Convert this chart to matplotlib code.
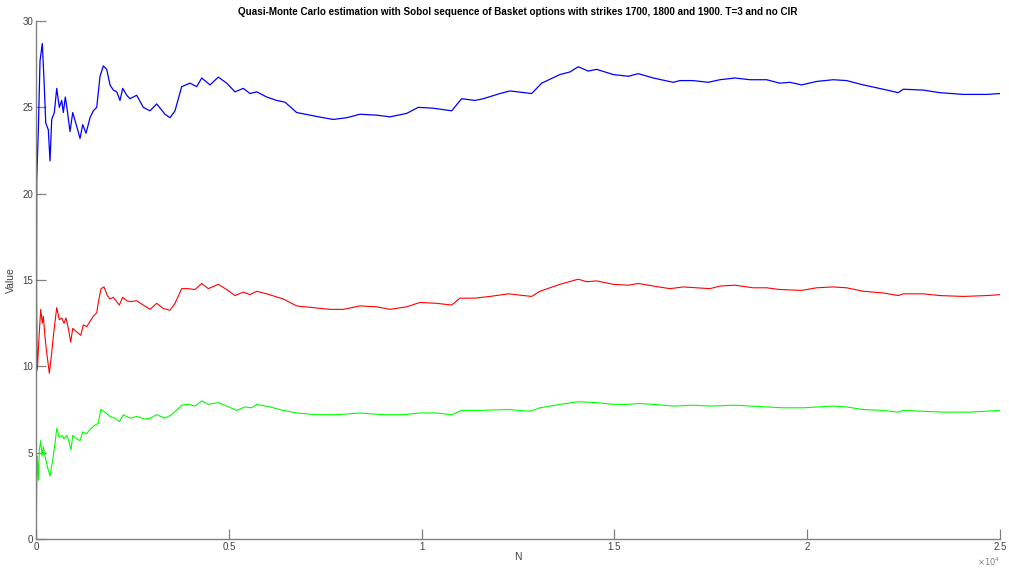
import matplotlib
matplotlib.use("Agg")
import matplotlib.pyplot as plt
from matplotlib.ticker import FuncFormatter

plt.rcParams['font.family'] = ['Liberation Sans', 'DejaVu Sans']

# strike 1700 (blue)
n_blue = [1, 18, 60, 104, 163, 207, 252, 319, 363, 407, 475, 537, 604, 666, 708, 760,
          812, 882, 952, 1055, 1141, 1211, 1297, 1400, 1486, 1574, 1660, 1745, 1833,
          1919, 2004, 2093, 2178, 2248, 2352, 2437, 2611, 2782, 2956, 3130, 3345, 3475,
          3604, 3778, 3993, 4167, 4297, 4512, 4727, 4945, 5160, 5375, 5549, 5723, 5982,
          6241, 6457, 6760, 7105, 7450, 7709, 8057, 8401, 8834, 9179, 9612, 9913, 10302,
          10779, 11038, 11383, 11599, 12032, 12291, 12854, 13113, 13587, 13847, 14062,
          14322, 14539, 14969, 15358, 15618, 16007, 16525, 16699, 17044, 17433, 17736,
          18125, 18514, 18947, 19292, 19551, 19855, 20244, 20674, 21022, 21452, 21971,
          22360, 22490, 23008, 23441, 24045, 24652, 25000]
v_blue = [0, 20.8, 23.7, 27.7, 28.7, 26.6, 24.1, 23.7, 21.9, 24.3, 24.7, 26.1, 25.0, 25.4,
          24.7, 25.6, 24.8, 23.6, 24.7, 23.9, 23.2, 24.0, 23.5, 24.4, 24.8, 25.0, 26.8,
          27.4, 27.2, 26.3, 26.0, 25.9, 25.4, 26.1, 25.7, 25.5, 25.7, 25.0, 24.8, 25.2,
          24.6, 24.4, 24.8, 26.2, 26.4, 26.2, 26.7, 26.3, 26.75, 26.4, 25.9, 26.1, 25.8,
          25.9, 25.6, 25.4, 25.3, 24.7, 24.55, 24.4, 24.3, 24.4, 24.6, 24.55, 24.45,
          24.65, 25.0, 24.95, 24.8, 25.5, 25.4, 25.5, 25.8, 25.95, 25.8, 26.4, 26.9,
          27.05, 27.35, 27.1, 27.2, 26.9, 26.8, 26.95, 26.7, 26.45, 26.55, 26.55, 26.45,
          26.6, 26.7, 26.6, 26.6, 26.4, 26.45, 26.3, 26.5, 26.6, 26.55, 26.3, 26.05,
          25.85, 26.05, 26.0, 25.85, 25.75, 25.75, 25.8]

# strike 1800 (red)
n_red = [1, 8, 34, 78, 122, 163, 189, 233, 277, 345, 407, 467, 537, 604, 666, 726, 778,
         838, 900, 952, 1055, 1159, 1227, 1315, 1400, 1486, 1574, 1615, 1685, 1763, 1849,
         1919, 2004, 2074, 2160, 2248, 2352, 2437, 2611, 2782, 2956, 3130, 3301, 3475,
         3604, 3778, 3949, 4123, 4297, 4468, 4727, 4945, 5160, 5375, 5549, 5723, 5982,
         6413, 6760, 7190, 7623, 7968, 8401, 8834, 9179, 9612, 9957, 10390, 10779, 10994,
         11383, 11772, 12247, 12854, 13069, 13587, 14062, 14280, 14539, 14969, 15358,
         15618, 16007, 16440, 16785, 17132, 17477, 17736, 18125, 18600, 18947, 19292,
         19855, 20244, 20674, 21022, 21452, 21971, 22360, 22490, 23008, 23441, 24045,
         24652, 25000]
v_red = [0, 14.5, 9.8, 11.7, 13.3, 12.5, 12.9, 11.7, 10.8, 9.6, 10.8, 12.1, 13.4, 12.7,
         12.8, 12.5, 12.8, 12.2, 11.4, 12.2, 12.0, 11.8, 12.4, 12.3, 12.6, 12.9, 13.1,
         13.7, 14.5, 14.6, 14.1, 13.9, 14.0, 13.8, 13.55, 14.0, 13.8, 13.75, 13.8, 13.55,
         13.3, 13.65, 13.35, 13.25, 13.65, 14.5, 14.5, 14.45, 14.8, 14.5, 14.75, 14.45,
         14.1, 14.3, 14.15, 14.35, 14.2, 13.9, 13.5, 13.4, 13.3, 13.3, 13.5, 13.45, 13.3,
         13.45, 13.7, 13.65, 13.55, 13.95, 13.95, 14.05, 14.2, 14.05, 14.35, 14.75, 15.05,
         14.9, 14.95, 14.75, 14.7, 14.8, 14.65, 14.5, 14.6, 14.55, 14.5, 14.65, 14.7,
         14.55, 14.55, 14.45, 14.4, 14.55, 14.6, 14.55, 14.35, 14.25, 14.1, 14.2, 14.2,
         14.1, 14.05, 14.1, 14.15]

# strike 1900 (green)
n_green = [1, 18, 34, 60, 86, 122, 156, 189, 233, 293, 363, 433, 493, 537, 604, 666, 726,
           796, 848, 908, 952, 1055, 1141, 1211, 1315, 1400, 1530, 1615, 1678, 1789, 1919,
           2048, 2160, 2264, 2437, 2611, 2826, 2956, 3130, 3345, 3519, 3778, 3949, 4123,
           4297, 4468, 4727, 4945, 5204, 5419, 5593, 5723, 6068, 6413, 6760, 7279, 7797,
           8401, 9005, 9524, 9957, 10390, 10779, 11038, 11513, 12247, 12809, 13069, 13587,
           14062, 14539, 14969, 15358, 15618, 16007, 16525, 17044, 17477, 18125, 18947,
           19378, 19896, 20674, 21022, 21452, 21971, 22360, 22490, 23008, 23527, 24219,
           25000]
v_green = [0, 2.8, 4.8, 3.4, 5.15, 5.7, 4.8, 5.35, 4.8, 4.2, 3.65, 4.6, 5.55, 6.4, 5.9,
           6.0, 5.8, 6.0, 5.7, 5.15, 6.0, 5.8, 5.7, 6.2, 6.1, 6.35, 6.6, 6.7, 7.5, 7.35,
           7.1, 7.0, 6.8, 7.2, 7.0, 7.1, 6.95, 7.0, 7.2, 7.0, 7.2, 7.75, 7.8, 7.7, 8.0,
           7.8, 7.9, 7.7, 7.45, 7.65, 7.6, 7.8, 7.65, 7.45, 7.3, 7.2, 7.2, 7.3, 7.2, 7.2,
           7.3, 7.3, 7.2, 7.45, 7.45, 7.5, 7.4, 7.6, 7.8, 7.95, 7.9, 7.8, 7.8, 7.85, 7.8,
           7.7, 7.75, 7.7, 7.75, 7.65, 7.6, 7.6, 7.7, 7.65, 7.5, 7.45, 7.35, 7.45, 7.4,
           7.35, 7.35, 7.45]

title = ('Quasi-Monte Carlo estimation with Sobol sequence of Basket options '
         'with strikes 1700, 1800 and 1900. T=3 and no CIR')
xticks = [0, 5000, 10000, 15000, 20000, 25000]
yticks = [0, 5, 10, 15, 20, 25, 30]

fig = plt.figure(figsize=(10.09, 5.68), dpi=100)
ax = fig.add_axes([0.0357, 0.051, 0.9554, 0.912])

ax.plot(n_blue, v_blue, color='#0000ff', lw=0.9)
ax.plot(n_red, v_red, color='#ff0000', lw=0.8)
ax.plot(n_green, v_green, color='#00ff00', lw=0.8)

ax.set_xlim(0, 25000)
ax.set_ylim(0, 30)
ax.set_xticks(xticks)
ax.set_yticks(yticks)
ax.xaxis.set_major_formatter(FuncFormatter(lambda v, p: '%g' % (v / 1e4)))

for s in ['top', 'right']:
    ax.spines[s].set_visible(False)
for s in ['left', 'bottom']:
    ax.spines[s].set_color('#808080')
    ax.spines[s].set_linewidth(1.0)
ax.tick_params(direction='in', length=7, width=0.9, colors='#808080',
               labelcolor='#404040', labelsize=7, pad=2)

ax.set_title(title, fontsize=7.1, fontweight='bold', pad=4)
ax.set_xlabel('N', fontsize=7.5, color='#404040', labelpad=0)
ax.set_ylabel('Value', fontsize=7.5, color='#404040', labelpad=5)
ax.text(1.0, -0.043, r'$\times10^4$', transform=ax.transAxes, ha='right',
        va='center', fontsize=6, color='#808080')

fig.savefig('out.png', dpi=100)
